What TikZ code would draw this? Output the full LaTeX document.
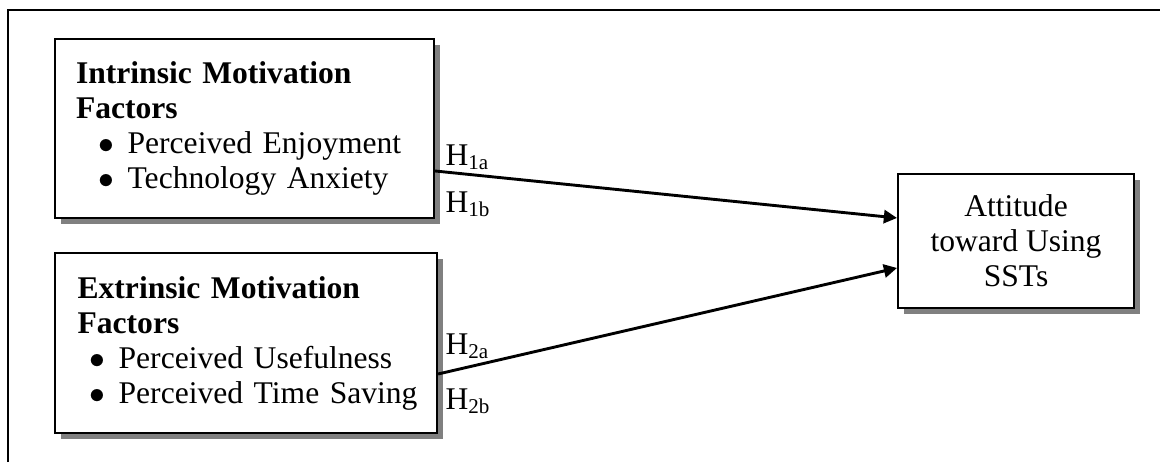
\documentclass[tikz,border=0pt]{standalone}
\usepackage{fontspec}
\setmainfont{Liberation Serif}
\usetikzlibrary{arrows.meta,calc,shadows}

% bullet line inside a factor box: indent, then text (kept on one line)
\newcommand{\factoritem}[2]{\mbox{\hspace*{#1}$\bullet$\hspace{5pt}#2}}

\tikzset{
  box/.style={draw, line width=0.75pt, fill=white, anchor=north west,
    drop shadow={shadow xshift=2.2pt, shadow yshift=-2.2pt, fill=black!50, opacity=1}},
  factorbox/.style={box, inner xsep=8pt, inner ysep=0pt, text width=128pt, align=left},
  attbox/.style={box, align=center},
  hyp/.style={line width=1.1pt, -{Triangle[length=5pt,width=5pt]}},
  hlabel/.style={anchor=base west, inner sep=0pt},
}

\begin{document}
\begin{tikzpicture}[x=0.38pt, y=-0.38pt, font=\fontsize{12}{13.3}\selectfont]
\useasboundingbox (0,0) rectangle (1160,462);

% open frame (top and left side only)
\coordinate (fbl) at (8,462);
\coordinate (ftl) at (8,10);
\coordinate (ftr) at (1160,10);
\draw[line width=0.75pt] (fbl) -- (ftl) -- (ftr);

% motivation factors
\node[factorbox, minimum width=144pt, minimum height=68pt] (intr) at (54,38)
  {\textbf{Intrinsic Motivation\\ Factors}\\
   \factoritem{8.6pt}{Perceived Enjoyment}\\
   \factoritem{8.6pt}{Technology Anxiety}};

\node[factorbox, minimum width=145.2pt, minimum height=68.4pt] (extr) at (54,252)
  {\textbf{Extrinsic Motivation\\ Factors}\\
   \factoritem{4.6pt}{Perceived Usefulness}\\
   \factoritem{4.6pt}{Perceived Time Saving}};

% outcome
\node[attbox, minimum width=89.7pt, minimum height=50.9pt] (att) at (897,173)
  {Attitude\\ toward Using\\ SSTs};

% hypotheses
\draw[hyp] ($(intr.east)+(0,42.5)$) -- ($(att.west)+(0,-23)$);
\draw[hyp] ($(extr.east)+(0,31)$) -- ($(att.west)+(0,27)$);

\node[hlabel] (h1a) at (445,165) {H\textsubscript{1a}};
\node[hlabel] (h1b) at (445,212) {H\textsubscript{1b}};
\node[hlabel] (h2a) at (445,354) {H\textsubscript{2a}};
\node[hlabel] (h2b) at (445,409) {H\textsubscript{2b}};

\end{tikzpicture}
\end{document}
